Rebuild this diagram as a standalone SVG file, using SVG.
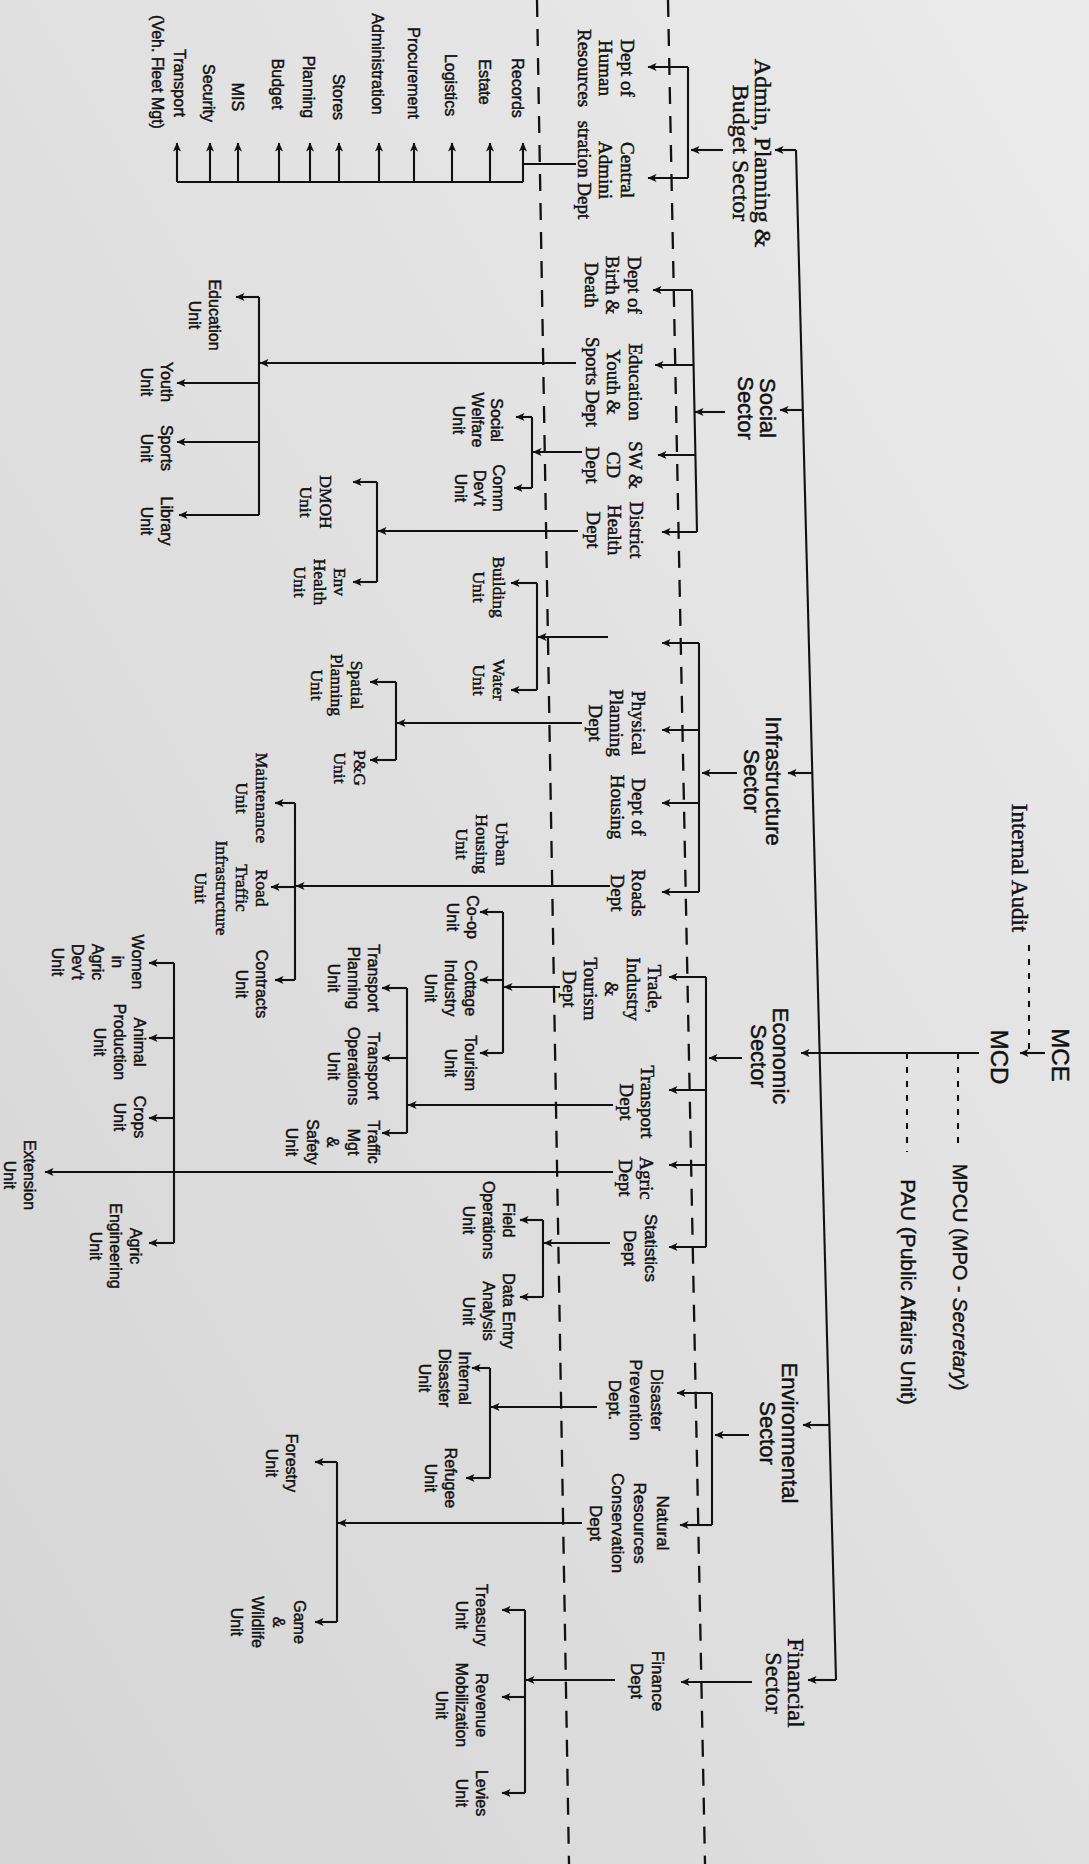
<svg xmlns="http://www.w3.org/2000/svg" width="1089" height="1864" viewBox="0 0 1089 1864">
<defs>
<linearGradient id="bg" x1="0" y1="1" x2="1" y2="0">
<stop offset="0" stop-color="#d5d5d5"/><stop offset="0.5" stop-color="#e0e0e0"/><stop offset="1" stop-color="#ebebeb"/>
</linearGradient>
<marker id="a" viewBox="0 0 10 10" refX="9.5" refY="5" markerWidth="10" markerHeight="9" markerUnits="userSpaceOnUse" orient="auto">
<path d="M0,0.5 L10,5 L0,9.5 L2.5,5 Z" fill="#111"/>
</marker>
</defs>
<style>
.ln path{stroke:#111;stroke-width:2.1;fill:none}
.ln path.ar{marker-end:url(#a)}
.ln path.dl{stroke-width:2.3;stroke-dasharray:17 12}
.ln path.dd{stroke-dasharray:6 8}
text{fill:#111;stroke:#111;stroke-width:0.45;text-anchor:middle}
.hd{font-family:"Liberation Sans",Arial,sans-serif;font-size:24px}
.sec{font-family:"Liberation Sans",Arial,sans-serif;font-size:22px}
.secs{font-family:"Liberation Serif","Times New Roman",serif;font-size:24px}
.d{font-family:"Liberation Serif","Times New Roman",serif;font-size:19px}
.ds{font-family:"Liberation Sans",Arial,sans-serif;font-size:17px}
.u{font-family:"Liberation Sans",Arial,sans-serif;font-size:16px}
.us{font-family:"Liberation Serif","Times New Roman",serif;font-size:17.5px}
</style>
<rect x="0" y="0" width="1089" height="1864" fill="url(#bg)"/>

<g id="connectors" class="ln">
<path class="dl" d="M668,0 L705,1864"/>
<path class="dl" d="M537,0 L569,1864"/>
<path class="ar" d="M1045,1053 H1020"/>
<path class="dd" d="M1029,945 V1053"/>
<path class="ar" d="M979,1053 H801"/>
<path class="dd" d="M958,1053 V1150"/>
<path class="dd" d="M907,1053 V1152"/>
<path d="M796,150 L836,1680"/>
<path class="ar" d="M796,150 H775"/>
<path class="ar" d="M803,410 H780"/>
<path class="ar" d="M813,773 H788"/>
<path class="ar" d="M830,1425 H803"/>
<path class="ar" d="M836,1680 H808"/>
<path class="ar" d="M723,150 H691"/>
<path class="ar" d="M725,412 H695"/>
<path class="ar" d="M737,773 H702"/>
<path class="ar" d="M742,1058 H709"/>
<path class="ar" d="M749,1435 H715"/>
<path class="ar" d="M752,1682 H681"/>
<path d="M688,67 V178"/>
<path class="ar" d="M688,67 H648"/>
<path class="ar" d="M688,178 H648"/>
<path d="M692,290 L697,532"/>
<path class="ar" d="M692,290 H653"/>
<path class="ar" d="M694,365 H655"/>
<path class="ar" d="M695,455 H658"/>
<path class="ar" d="M697,532 H662"/>
<path d="M699,643 V892"/>
<path class="ar" d="M699,643 H662"/>
<path class="ar" d="M699,730 H662"/>
<path class="ar" d="M699,803 H662"/>
<path class="ar" d="M699,892 H662"/>
<path d="M706,977 V1247"/>
<path class="ar" d="M706,977 H669"/>
<path class="ar" d="M706,1090 H669"/>
<path class="ar" d="M706,1165 H669"/>
<path class="ar" d="M706,1247 H669"/>
<path d="M712,1393 V1525"/>
<path class="ar" d="M712,1393 H677"/>
<path class="ar" d="M712,1525 H680"/>
<path d="M576,164 H523"/>
<path d="M177,182 H523"/>
<path class="ar" d="M523,182 V143"/>
<path class="ar" d="M490,182 V143"/>
<path class="ar" d="M452,182 V143"/>
<path class="ar" d="M414,182 V143"/>
<path class="ar" d="M379,182 V143"/>
<path class="ar" d="M339,182 V143"/>
<path class="ar" d="M310,182 V143"/>
<path class="ar" d="M279,182 V143"/>
<path class="ar" d="M238,182 V143"/>
<path class="ar" d="M210,182 V143"/>
<path class="ar" d="M177,182 V143"/>
<path class="ar" d="M576,363 H260"/>
<path d="M259,297 V515"/>
<path class="ar" d="M259,297 H236"/>
<path class="ar" d="M259,383 H177"/>
<path class="ar" d="M259,442 H177"/>
<path class="ar" d="M259,515 H179"/>
<path class="ar" d="M582,452 H533"/>
<path d="M532,417 V488"/>
<path class="ar" d="M532,417 H516"/>
<path class="ar" d="M532,488 H514"/>
<path class="ar" d="M578,531 H378"/>
<path d="M377,482 V582"/>
<path class="ar" d="M377,482 H353"/>
<path class="ar" d="M377,582 H353"/>
<path class="ar" d="M608,637 H538"/>
<path d="M537,583 V690"/>
<path class="ar" d="M537,583 H511"/>
<path class="ar" d="M537,690 H511"/>
<path class="ar" d="M582,723 H397"/>
<path d="M396,682 V760"/>
<path class="ar" d="M396,682 H370"/>
<path class="ar" d="M396,760 H370"/>
<path class="ar" d="M610,886 H296"/>
<path d="M295,803 V980"/>
<path class="ar" d="M295,803 H275"/>
<path class="ar" d="M295,887 H271"/>
<path class="ar" d="M295,980 H275"/>
<path class="ar" d="M560,987 H504"/>
<path d="M503,912 V1053"/>
<path class="ar" d="M503,912 H480"/>
<path class="ar" d="M503,980 H480"/>
<path class="ar" d="M503,1053 H480"/>
<path class="ar" d="M613,1105 H408"/>
<path d="M407,988 V1133"/>
<path class="ar" d="M407,988 H382"/>
<path class="ar" d="M407,1058 H382"/>
<path class="ar" d="M407,1133 H382"/>
<path class="ar" d="M613,1172 H45"/>
<path d="M174,963 V1243"/>
<path class="ar" d="M174,963 H149"/>
<path class="ar" d="M174,1038 H149"/>
<path class="ar" d="M174,1118 H149"/>
<path class="ar" d="M174,1243 H149"/>
<path class="ar" d="M610,1243 H544"/>
<path d="M543,1220 V1297"/>
<path class="ar" d="M543,1220 H520"/>
<path class="ar" d="M543,1297 H520"/>
<path class="ar" d="M597,1407 H491"/>
<path d="M490,1368 V1478"/>
<path class="ar" d="M490,1368 H472"/>
<path class="ar" d="M490,1478 H466"/>
<path class="ar" d="M582,1523 H338"/>
<path d="M337,1462 V1622"/>
<path class="ar" d="M337,1462 H315"/>
<path class="ar" d="M337,1622 H315"/>
<path class="ar" d="M615,1680 H526"/>
<path d="M525,1610 V1793"/>
<path class="ar" d="M525,1610 H502"/>
<path class="ar" d="M525,1697 H502"/>
<path class="ar" d="M525,1793 H502"/>
</g>

<g id="mce"><text class="hd" transform="translate(1060,1055) rotate(90)"><tspan x="0" y="8.4">MCE</tspan></text></g>
<g id="mcd"><text class="hd" transform="translate(999,1057) rotate(90)"><tspan x="0" y="8.4">MCD</tspan></text></g>
<g id="internal-audit"><text class="secs" style="font-size:23px" transform="translate(1020,868) rotate(90)"><tspan x="0" y="8">Internal Audit</tspan></text></g>
<g id="mpcu"><text class="hd" style="font-size:20px" transform="translate(960,1277) rotate(90)"><tspan x="0" y="7">MPCU (MPO - <tspan font-style="italic">Secretary</tspan>)</tspan></text></g>
<g id="pau"><text class="hd" style="font-size:21px" transform="translate(908,1292) rotate(90)"><tspan x="0" y="7.3">PAU (Public Affairs Unit)</tspan></text></g>

<g id="sec-admin"><text class="secs" transform="translate(752,153) rotate(90)"><tspan x="0" y="-2.6">Admin, Planning &amp;</tspan><tspan x="0" y="19.4">Budget Sector</tspan></text></g>
<g id="sec-social"><text class="sec" transform="translate(757,408) rotate(90)"><tspan x="0" y="-3.3">Social</tspan><tspan x="0" y="18.7">Sector</tspan></text></g>
<g id="sec-infra"><text class="sec" transform="translate(763,781) rotate(90)"><tspan x="0" y="-3.3">Infrastructure</tspan><tspan x="0" y="18.7">Sector</tspan></text></g>
<g id="sec-econ"><text class="sec" transform="translate(770,1056) rotate(90)"><tspan x="0" y="-3.3">Economic</tspan><tspan x="0" y="18.7">Sector</tspan></text></g>
<g id="sec-env"><text class="sec" transform="translate(779,1433) rotate(90)"><tspan x="0" y="-3.3">Environmental</tspan><tspan x="0" y="18.7">Sector</tspan></text></g>
<g id="sec-fin"><text class="secs" transform="translate(785,1683) rotate(90)"><tspan x="0" y="-2.6">Financial</tspan><tspan x="0" y="19.4">Sector</tspan></text></g>

<g id="dept-hr"><text class="d" transform="translate(606,68) rotate(90)"><tspan x="0" y="-14.85">Dept of</tspan><tspan x="0" y="6.65">Human</tspan><tspan x="0" y="28.15">Resources</tspan></text></g>
<g id="dept-central"><text class="d" transform="translate(606,170) rotate(90)"><tspan x="0" y="-14.85">Central</tspan><tspan x="0" y="6.65">Admini</tspan><tspan x="0" y="28.15">stration Dept</tspan></text></g>
<g id="dept-birth"><text class="d" transform="translate(613,285) rotate(90)"><tspan x="0" y="-14.85">Dept of</tspan><tspan x="0" y="6.65">Birth &amp;</tspan><tspan x="0" y="28.15">Death</tspan></text></g>
<g id="dept-edu"><text class="d" transform="translate(614,382) rotate(90)"><tspan x="0" y="-14.85">Education</tspan><tspan x="0" y="6.65">Youth &amp;</tspan><tspan x="0" y="28.15">Sports Dept</tspan></text></g>
<g id="dept-swcd"><text class="d" transform="translate(614,465) rotate(90)"><tspan x="0" y="-14.85">SW &amp;</tspan><tspan x="0" y="6.65">CD</tspan><tspan x="0" y="28.15">Dept</tspan></text></g>
<g id="dept-health"><text class="d" transform="translate(615,530) rotate(90)"><tspan x="0" y="-14.85">District</tspan><tspan x="0" y="6.65">Health</tspan><tspan x="0" y="28.15">Dept</tspan></text></g>
<g id="dept-physical"><text class="d" transform="translate(617,723) rotate(90)"><tspan x="0" y="-14.85">Physical</tspan><tspan x="0" y="6.65">Planning</tspan><tspan x="0" y="28.15">Dept</tspan></text></g>
<g id="dept-housing"><text class="d" transform="translate(628,807) rotate(90)"><tspan x="0" y="-4.1">Dept of</tspan><tspan x="0" y="17.4">Housing</tspan></text></g>
<g id="dept-roads"><text class="d" transform="translate(628,893) rotate(90)"><tspan x="0" y="-4.1">Roads</tspan><tspan x="0" y="17.4">Dept</tspan></text></g>
<g id="dept-trade"><text class="d" transform="translate(612,989) rotate(90)"><tspan x="0" y="-35.85">Trade,</tspan><tspan x="0" y="-14.6">Industry</tspan><tspan x="0" y="6.65">&amp;</tspan><tspan x="0" y="27.9">Tourism</tspan><tspan x="0" y="49.15">Dept</tspan></text></g>
<g id="dept-transport"><text class="d" transform="translate(637,1102) rotate(90)"><tspan x="0" y="-4.1">Transport</tspan><tspan x="0" y="17.4">Dept</tspan></text></g>
<g id="dept-agric"><text class="d" transform="translate(636,1178) rotate(90)"><tspan x="0" y="-4.1">Agric</tspan><tspan x="0" y="17.4">Dept</tspan></text></g>
<g id="dept-stats"><text class="ds" transform="translate(640,1248) rotate(90)"><tspan x="0" y="-4.55">Statistics</tspan><tspan x="0" y="16.45">Dept</tspan></text></g>
<g id="dept-disaster"><text class="ds" transform="translate(636,1400) rotate(90)"><tspan x="0" y="-15.05">Disaster</tspan><tspan x="0" y="5.95">Prevention</tspan><tspan x="0" y="26.95">Dept.</tspan></text></g>
<g id="dept-natural"><text class="ds" transform="translate(629,1523) rotate(90)"><tspan x="0" y="-27.5">Natural</tspan><tspan x="0" y="-5.2">Resources</tspan><tspan x="0" y="17.1">Conservation</tspan><tspan x="0" y="39.4">Dept</tspan></text></g>
<g id="dept-finance"><text class="ds" transform="translate(647,1681) rotate(90)"><tspan x="0" y="-4.55">Finance</tspan><tspan x="0" y="16.45">Dept</tspan></text></g>

<g id="u-records"><text class="u" transform="translate(518,88) rotate(90)"><tspan x="0" y="5.6">Records</tspan></text></g>
<g id="u-estate"><text class="u" transform="translate(485,82) rotate(90)"><tspan x="0" y="5.6">Estate</tspan></text></g>
<g id="u-logistics"><text class="u" transform="translate(451,85) rotate(90)"><tspan x="0" y="5.6">Logistics</tspan></text></g>
<g id="u-procurement"><text class="u" transform="translate(414,73) rotate(90)"><tspan x="0" y="5.6">Procurement</tspan></text></g>
<g id="u-administration"><text class="u" transform="translate(378,64) rotate(90)"><tspan x="0" y="5.6">Administration</tspan></text></g>
<g id="u-stores"><text class="u" transform="translate(339,97) rotate(90)"><tspan x="0" y="5.6">Stores</tspan></text></g>
<g id="u-planning"><text class="u" transform="translate(309,87) rotate(90)"><tspan x="0" y="5.6">Planning</tspan></text></g>
<g id="u-budget"><text class="u" transform="translate(278,84) rotate(90)"><tspan x="0" y="5.6">Budget</tspan></text></g>
<g id="u-mis"><text class="u" transform="translate(238,97) rotate(90)"><tspan x="0" y="5.6">MIS</tspan></text></g>
<g id="u-security"><text class="u" transform="translate(209,93) rotate(90)"><tspan x="0" y="5.6">Security</tspan></text></g>
<g id="u-transport"><text class="u" transform="translate(180,83) rotate(90)"><tspan x="0" y="5.6">Transport</tspan><tspan x="-11" y="27.6">(Veh. Fleet Mgt)</tspan></text></g>

<g id="u-education"><text class="u" transform="translate(205,315) rotate(90)"><tspan x="0" y="-4.4">Education</tspan><tspan x="0" y="15.6">Unit</tspan></text></g>
<g id="u-youth"><text class="u" transform="translate(157,382) rotate(90)"><tspan x="0" y="-4.4">Youth</tspan><tspan x="0" y="15.6">Unit</tspan></text></g>
<g id="u-sports"><text class="u" transform="translate(157,448) rotate(90)"><tspan x="0" y="-4.4">Sports</tspan><tspan x="0" y="15.6">Unit</tspan></text></g>
<g id="u-library"><text class="u" transform="translate(157,521) rotate(90)"><tspan x="0" y="-4.4">Library</tspan><tspan x="0" y="15.6">Unit</tspan></text></g>
<g id="u-welfare"><text class="u" transform="translate(478,420) rotate(90)"><tspan x="0" y="-13.4">Social</tspan><tspan x="0" y="5.6">Welfare</tspan><tspan x="0" y="24.6">Unit</tspan></text></g>
<g id="u-commdev"><text class="u" transform="translate(480,488) rotate(90)"><tspan x="0" y="-13.4">Comm</tspan><tspan x="0" y="5.6">Dev't</tspan><tspan x="0" y="24.6">Unit</tspan></text></g>
<g id="u-dmoh"><text class="us" transform="translate(316,502) rotate(90)"><tspan x="0" y="-3.9">DMOH</tspan><tspan x="0" y="16.1">Unit</tspan></text></g>
<g id="u-envhealth"><text class="us" transform="translate(320,582) rotate(90)"><tspan x="0" y="-13.9">Env</tspan><tspan x="0" y="6.1">Health</tspan><tspan x="0" y="26.1">Unit</tspan></text></g>
<g id="u-building"><text class="us" transform="translate(489,587) rotate(90)"><tspan x="0" y="-3.9">Building</tspan><tspan x="0" y="16.1">Unit</tspan></text></g>
<g id="u-water"><text class="us" transform="translate(489,680) rotate(90)"><tspan x="0" y="-3.9">Water</tspan><tspan x="0" y="16.1">Unit</tspan></text></g>
<g id="u-spatial"><text class="us" transform="translate(337,685) rotate(90)"><tspan x="0" y="-13.9">Spatial</tspan><tspan x="0" y="6.1">Planning</tspan><tspan x="0" y="26.1">Unit</tspan></text></g>
<g id="u-pg"><text class="us" transform="translate(350,768) rotate(90)"><tspan x="0" y="-3.9">P&amp;G</tspan><tspan x="0" y="16.1">Unit</tspan></text></g>
<g id="u-urbanhousing"><text class="us" transform="translate(482,844) rotate(90)"><tspan x="0" y="-13.9">Urban</tspan><tspan x="0" y="6.1">Housing</tspan><tspan x="0" y="26.1">Unit</tspan></text></g>
<g id="u-maintenance"><text class="us" transform="translate(252,798) rotate(90)"><tspan x="0" y="-3.9">Maintenance</tspan><tspan x="0" y="16.1">Unit</tspan></text></g>
<g id="u-roadtraffic"><text class="us" transform="translate(232,888) rotate(90)"><tspan x="0" y="-24.35">Road</tspan><tspan x="0" y="-4.05">Traffic</tspan><tspan x="0" y="16.25">Infrastructure</tspan><tspan x="0" y="36.55">Unit</tspan></text></g>
<g id="u-contracts"><text class="u" transform="translate(252,984) rotate(90)"><tspan x="0" y="-4.4">Contracts</tspan><tspan x="0" y="15.6">Unit</tspan></text></g>
<g id="u-coop"><text class="u" transform="translate(463,917) rotate(90)"><tspan x="0" y="-4.4">Co-op</tspan><tspan x="0" y="15.6">Unit</tspan></text></g>
<g id="u-cottage"><text class="u" transform="translate(451,988) rotate(90)"><tspan x="0" y="-14.4">Cottage</tspan><tspan x="0" y="5.6">Industry</tspan><tspan x="0" y="25.6">Unit</tspan></text></g>
<g id="u-tourism"><text class="u" transform="translate(461,1063) rotate(90)"><tspan x="0" y="-4.4">Tourism</tspan><tspan x="0" y="15.6">Unit</tspan></text></g>
<g id="u-tplanning"><text class="u" transform="translate(354,978) rotate(90)"><tspan x="0" y="-14.4">Transport</tspan><tspan x="0" y="5.6">Planning</tspan><tspan x="0" y="25.6">Unit</tspan></text></g>
<g id="u-toperations"><text class="u" transform="translate(354,1066) rotate(90)"><tspan x="0" y="-14.4">Transport</tspan><tspan x="0" y="5.6">Operations</tspan><tspan x="0" y="25.6">Unit</tspan></text></g>
<g id="u-traffic"><text class="u" transform="translate(333,1142) rotate(90)"><tspan x="0" y="-35.4">Traffic</tspan><tspan x="0" y="-14.9">Mgt</tspan><tspan x="0" y="5.6">&amp;</tspan><tspan x="0" y="26.1">Safety</tspan><tspan x="0" y="46.6">Unit</tspan></text></g>
<g id="u-women"><text class="u" transform="translate(98,962) rotate(90)"><tspan x="0" y="-34.4">Women</tspan><tspan x="0" y="-14.4">in</tspan><tspan x="0" y="5.6">Agric</tspan><tspan x="0" y="25.6">Dev't</tspan><tspan x="0" y="45.6">Unit</tspan></text></g>
<g id="u-animal"><text class="u" transform="translate(120,1042) rotate(90)"><tspan x="0" y="-14.4">Animal</tspan><tspan x="0" y="5.6">Production</tspan><tspan x="0" y="25.6">Unit</tspan></text></g>
<g id="u-crops"><text class="u" transform="translate(130,1117) rotate(90)"><tspan x="0" y="-4.4">Crops</tspan><tspan x="0" y="15.6">Unit</tspan></text></g>
<g id="u-agriceng"><text class="u" transform="translate(116,1246) rotate(90)"><tspan x="0" y="-14.4">Agric</tspan><tspan x="0" y="5.6">Engineering</tspan><tspan x="0" y="25.6">Unit</tspan></text></g>
<g id="u-extension"><text class="u" transform="translate(20,1175) rotate(90)"><tspan x="0" y="-4.4">Extension</tspan><tspan x="0" y="15.6">Unit</tspan></text></g>
<g id="u-field"><text class="u" transform="translate(489,1220) rotate(90)"><tspan x="0" y="-14.4">Field</tspan><tspan x="0" y="5.6">Operations</tspan><tspan x="0" y="25.6">Unit</tspan></text></g>
<g id="u-dataentry"><text class="u" transform="translate(489,1311) rotate(90)"><tspan x="0" y="-14.4">Data Entry</tspan><tspan x="0" y="5.6">Analysis</tspan><tspan x="0" y="25.6">Unit</tspan></text></g>
<g id="u-internal"><text class="u" transform="translate(445,1378) rotate(90)"><tspan x="0" y="-14.4">Internal</tspan><tspan x="0" y="5.6">Disaster</tspan><tspan x="0" y="25.6">Unit</tspan></text></g>
<g id="u-refugee"><text class="u" transform="translate(441,1478) rotate(90)"><tspan x="0" y="-4.4">Refugee</tspan><tspan x="0" y="15.6">Unit</tspan></text></g>
<g id="u-forestry"><text class="u" transform="translate(282,1463) rotate(90)"><tspan x="0" y="-4.4">Forestry</tspan><tspan x="0" y="15.6">Unit</tspan></text></g>
<g id="u-game"><text class="u" transform="translate(268,1622) rotate(90)"><tspan x="0" y="-25.9">Game</tspan><tspan x="0" y="-4.9">&amp;</tspan><tspan x="0" y="16.1">Wildlife</tspan><tspan x="0" y="37.1">Unit</tspan></text></g>
<g id="u-treasury"><text class="u" transform="translate(472,1615) rotate(90)"><tspan x="0" y="-4.4">Treasury</tspan><tspan x="0" y="15.6">Unit</tspan></text></g>
<g id="u-revenue"><text class="u" transform="translate(462,1705) rotate(90)"><tspan x="0" y="-14.4">Revenue</tspan><tspan x="0" y="5.6">Mobilization</tspan><tspan x="0" y="25.6">Unit</tspan></text></g>
<g id="u-levies"><text class="u" transform="translate(472,1793) rotate(90)"><tspan x="0" y="-4.4">Levies</tspan><tspan x="0" y="15.6">Unit</tspan></text></g>
</svg>
